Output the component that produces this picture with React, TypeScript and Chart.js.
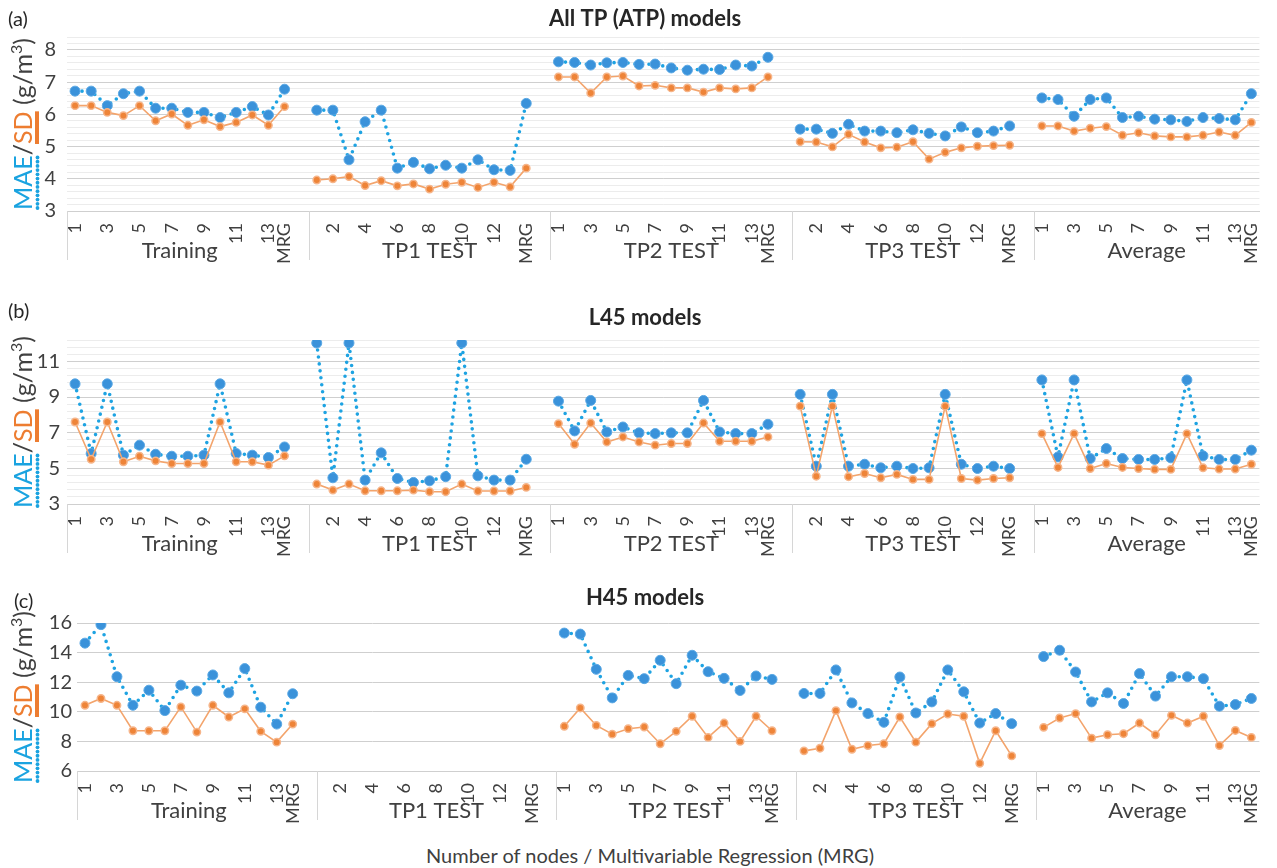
import React, { useEffect, useRef } from 'react';
import { Chart, registerables } from 'chart.js';

Chart.register(...registerables);
Chart.defaults.font.family = 'Lato';

// ---------- data ----------
const NODE_LABELS = ['1', '2', '3', '4', '5', '6', '7', '8', '9', '10', '11', '12', '13', 'MRG'];
const GROUPS = ['Training', 'TP1 TEST', 'TP2 TEST', 'TP3 TEST', 'Average'];

// (a) All TP (ATP) models  – rows: Training, TP1, TP2, TP3, Average
const ATP_MAE: number[][] = [
  [6.72, 6.72, 6.27, 6.64, 6.72, 6.19, 6.19, 6.06, 6.06, 5.9, 6.06, 6.24, 5.98, 6.78],
  [6.13, 6.13, 4.59, 5.77, 6.13, 4.33, 4.51, 4.31, 4.42, 4.33, 4.59, 4.28, 4.26, 6.34],
  [7.63, 7.61, 7.53, 7.6, 7.61, 7.55, 7.56, 7.44, 7.37, 7.4, 7.39, 7.53, 7.5, 7.77],
  [5.54, 5.54, 5.41, 5.69, 5.48, 5.48, 5.43, 5.52, 5.41, 5.33, 5.61, 5.43, 5.48, 5.64],
  [6.51, 6.46, 5.94, 6.46, 6.51, 5.9, 5.94, 5.85, 5.83, 5.78, 5.9, 5.87, 5.83, 6.64],
];
const ATP_SD: number[][] = [
  [6.27, 6.27, 6.06, 5.96, 6.27, 5.8, 6.01, 5.66, 5.83, 5.62, 5.75, 5.98, 5.66, 6.24],
  [3.96, 4.0, 4.07, 3.79, 3.94, 3.78, 3.84, 3.68, 3.83, 3.89, 3.73, 3.89, 3.75, 4.33],
  [7.16, 7.16, 6.66, 7.16, 7.19, 6.88, 6.9, 6.82, 6.82, 6.69, 6.82, 6.79, 6.82, 7.16],
  [5.15, 5.14, 4.99, 5.38, 5.14, 4.96, 4.98, 5.15, 4.61, 4.82, 4.96, 5.01, 5.03, 5.04],
  [5.64, 5.64, 5.48, 5.57, 5.62, 5.35, 5.43, 5.33, 5.3, 5.3, 5.35, 5.45, 5.35, 5.75],
];

// (b) L45 models
const L45_MAE: number[][] = [
  [9.74, 5.83, 9.74, 5.74, 6.3, 5.79, 5.68, 5.68, 5.74, 9.74, 5.83, 5.74, 5.61, 6.2],
  [12.03, 4.47, 12.03, 4.34, 5.87, 4.43, 4.21, 4.3, 4.53, 12.03, 4.58, 4.34, 4.34, 5.51],
  [8.77, 7.1, 8.81, 7.04, 7.32, 6.99, 6.95, 6.99, 6.99, 8.81, 7.04, 6.95, 6.95, 7.47],
  [9.15, 5.12, 9.15, 5.12, 5.23, 5.03, 5.12, 4.99, 5.03, 9.15, 5.23, 4.99, 5.12, 4.99],
  [9.96, 5.64, 9.96, 5.55, 6.11, 5.55, 5.5, 5.5, 5.59, 9.96, 5.7, 5.5, 5.5, 6.02],
];
const L45_SD: number[][] = [
  [7.6, 5.51, 7.6, 5.37, 5.68, 5.42, 5.27, 5.27, 5.27, 7.6, 5.37, 5.37, 5.18, 5.7],
  [4.12, 3.78, 4.12, 3.74, 3.74, 3.74, 3.78, 3.69, 3.69, 4.12, 3.73, 3.73, 3.73, 3.93],
  [7.51, 6.35, 7.54, 6.48, 6.76, 6.48, 6.3, 6.39, 6.39, 7.54, 6.52, 6.52, 6.52, 6.76],
  [8.49, 4.56, 8.49, 4.53, 4.71, 4.47, 4.66, 4.38, 4.38, 8.49, 4.43, 4.34, 4.43, 4.47],
  [6.95, 5.05, 6.95, 4.99, 5.27, 5.05, 4.99, 4.94, 4.94, 6.95, 5.03, 4.96, 4.96, 5.23],
];

// (c) H45 models (no TP1 test data)
const H45_MAE: number[][] = [
  [14.64, 15.89, 12.37, 10.44, 11.46, 10.08, 11.8, 11.4, 12.49, 11.28, 12.92, 10.31, 9.17, 11.22],
  [],
  [15.32, 15.25, 12.87, 10.94, 12.46, 12.24, 13.48, 11.9, 13.82, 12.71, 12.26, 11.44, 12.42, 12.19],
  [11.24, 11.24, 12.83, 10.6, 9.88, 9.29, 12.35, 9.92, 10.67, 12.83, 11.35, 9.24, 9.88, 9.2],
  [13.73, 14.16, 12.69, 10.67, 11.28, 10.56, 12.58, 11.06, 12.37, 12.37, 12.24, 10.38, 10.49, 10.9],
];
const H45_SD: number[][] = [
  [10.44, 10.9, 10.44, 8.72, 8.72, 8.72, 10.33, 8.63, 10.44, 9.65, 10.2, 8.68, 7.95, 9.17],
  [],
  [9.02, 10.26, 9.08, 8.49, 8.86, 8.97, 7.84, 8.68, 9.7, 8.27, 9.24, 8.0, 9.7, 8.72],
  [7.36, 7.54, 10.08, 7.47, 7.72, 7.84, 9.65, 7.95, 9.2, 9.85, 9.7, 6.52, 8.72, 7.02],
  [8.95, 9.58, 9.88, 8.22, 8.45, 8.52, 9.24, 8.45, 9.76, 9.24, 9.7, 7.72, 8.74, 8.27],
];

const PANEL_TITLES = ['All TP (ATP) models', 'L45 models', 'H45 models'];
const PANEL_TAGS = ['(a)', '(b)', '(c)'];
const X_TITLE = 'Number of nodes / Multivariable Regression (MRG)';

// ---------- styling ----------
const TEXT = '#404040';
const MAJOR_GRID = '#cfcfcf';
const MINOR_GRID = '#ececec';
const MAE_LINE = '#1ea3e2';
const MAE_POINT = '#3a92da';
const MAE_RIM = '#5aa8e4';
const SD_LINE = '#f3a46c';
const SD_POINT = '#ee8438';
const SD_RIM = '#f6b58a';
const MAE_TEXT = '#1aa3e0';
const SD_TEXT = '#ed7d31';

// categories: 14 per group, a blank slot between groups
const CATEGORIES: string[] = [];
GROUPS.forEach((_, g) => {
  NODE_LABELS.forEach((l) => CATEGORIES.push(l));
  if (g < GROUPS.length - 1) CATEGORIES.push('');
});

function series(rows: number[][]): (number | null)[] {
  const out: (number | null)[] = [];
  rows.forEach((row, g) => {
    NODE_LABELS.forEach((_, i) => out.push(row[i] ?? null));
    if (g < rows.length - 1) out.push(null);
  });
  return out;
}

function tickLabel(i: number) {
  const l = CATEGORIES[i];
  if (l === 'MRG') return l;
  return i % 2 === 0 ? l : '';
}

const decorPlugin = {
  id: 'panelDecor',
  afterDraw(chart: any, _args: any, opts: any) {
    const { ctx, chartArea } = chart;
    const x = chart.scales.x;
    const slot = x.getPixelForValue(1) - x.getPixelForValue(0);
    const bottom = chartArea.bottom;
    ctx.save();
    // title
    ctx.font = 'bold 22px Lato';
    ctx.fillStyle = '#262626';
    ctx.textAlign = 'center';
    ctx.textBaseline = 'middle';
    ctx.fillText(opts.title, 645, opts.titleY);

    // group separators and labels
    const per = NODE_LABELS.length + 1;
    ctx.strokeStyle = '#d6d6d6';
    ctx.lineWidth = 1;
    ctx.font = '22px Lato';
    ctx.fillStyle = TEXT;
    GROUPS.forEach((name, g) => {
      const start = g * per;
      const end = g === 0 || g === GROUPS.length - 1 ? start + NODE_LABELS.length - 1 : start + NODE_LABELS.length;
      const left = x.getPixelForValue(start) - slot / 2;
      const right = x.getPixelForValue(end) + slot / 2;
      const lx = Math.round(left) + 0.5;
      ctx.beginPath();
      ctx.moveTo(lx, bottom);
      ctx.lineTo(lx, bottom + 49);
      ctx.stroke();
      ctx.fillText(name, (left + right) / 2, bottom + 40);
    });

    // y-axis title with coloured parts
    const size = 25;
    const main = `${size}px Lato`;
    const sup = `${Math.round(size * 0.62)}px Lato`;
    const segs = [
      { t: 'MAE', c: MAE_TEXT, f: main, dy: 0, u: 'dots' },
      { t: '/', c: TEXT, f: main, dy: 0, u: '' },
      { t: 'SD', c: SD_TEXT, f: main, dy: 0, u: 'bar' },
      { t: ' (g/m', c: TEXT, f: main, dy: 0, u: '' },
      { t: '3', c: TEXT, f: sup, dy: -size * 0.42, u: '' },
      { t: ')', c: TEXT, f: main, dy: 0, u: '' },
    ];
    const widths = segs.map((s) => {
      ctx.font = s.f;
      return ctx.measureText(s.t).width;
    });
    const total = widths.reduce((a, b) => a + b, 0);
    const stretch = opts.yTitleLen / total;
    ctx.translate(opts.yTitleX, (chartArea.top + chartArea.bottom) / 2);
    ctx.rotate(-Math.PI / 2);
    ctx.scale(stretch, 1);
    ctx.textAlign = 'left';
    ctx.textBaseline = 'alphabetic';
    let px = -total / 2;
    segs.forEach((s, i) => {
      ctx.font = s.f;
      ctx.fillStyle = s.c;
      ctx.fillText(s.t, px, s.dy);
      if (s.u === 'dots') {
        for (let d = px + 2; d < px + widths[i]; d += 4.2) {
          ctx.beginPath();
          ctx.ellipse(d, 5.5, 1.9 / stretch, 1.9, 0, 0, Math.PI * 2);
          ctx.fill();
        }
      } else if (s.u === 'bar') {
        ctx.fillRect(px, 3, widths[i], 4);
      }
      px += widths[i];
    });
    ctx.restore();
  },
};

type PanelCfg = {
  top: number;
  height: number;
  padTop: number;
  titleY: number;
  yMin: number;
  yMax: number;
  step: number;
  major: number;
  yWidth: number;
  tickPad: number;
  mae: number[][];
  sd: number[][];
  title: string;
};

const PANELS: PanelCfg[] = [
  { top: 0, height: 270, padTop: 37, titleY: 19, yMin: 3, yMax: 8.4, step: 0.2, major: 1, yWidth: 67, tickPad: 11, mae: ATP_MAE, sd: ATP_SD, title: PANEL_TITLES[0] },
  { top: 290, height: 273, padTop: 50, titleY: 28, yMin: 3, yMax: 12.2, step: 0.4, major: 2, yWidth: 67, tickPad: 7, mae: L45_MAE, sd: L45_SD, title: PANEL_TITLES[1] },
  { top: 575, height: 255, padTop: 48, titleY: 23, yMin: 6, yMax: 16, step: 2, major: 2, yWidth: 77, tickPad: 5, mae: H45_MAE, sd: H45_SD, title: PANEL_TITLES[2] },
];

function Panel({ p }: { p: PanelCfg }) {
  const ref = useRef<HTMLCanvasElement>(null);
  useEffect(() => {
    const isMajor = (v: number) => {
      const k = (v - p.yMin) / p.major;
      return Math.abs(k - Math.round(k)) < 1e-6;
    };
    const chart = new Chart(ref.current as HTMLCanvasElement, {
      type: 'line',
      data: {
        labels: CATEGORIES,
        datasets: [
          {
            label: 'SD',
            data: series(p.sd),
            borderColor: SD_LINE,
            borderWidth: 1.6,
            pointRadius: 3.7,
            pointBackgroundColor: SD_POINT,
            pointBorderColor: SD_RIM,
            pointBorderWidth: 1.5,
            tension: 0,
            spanGaps: false,
            fill: false,
          },
          {
            label: 'MAE',
            data: series(p.mae),
            borderColor: MAE_LINE,
            borderWidth: 3.6,
            borderDash: [0, 7],
            borderCapStyle: 'round',
            pointRadius: 5,
            pointBackgroundColor: MAE_POINT,
            pointBorderColor: MAE_RIM,
            pointBorderWidth: 1,
            tension: 0,
            spanGaps: false,
            fill: false,
          },
        ],
      } as any,
      options: {
        responsive: false,
        maintainAspectRatio: false,
        animation: false,
        devicePixelRatio: 1,
        layout: { padding: { top: p.padTop, right: 2, left: 0, bottom: 0 } },
        plugins: {
          legend: { display: false },
          tooltip: { enabled: false },
          title: { display: false },
          panelDecor: { title: p.title, titleY: p.titleY, yTitleX: 32, yTitleLen: 172 },
        } as any,
        scales: {
          x: {
            type: 'category',
            offset: true,
            grid: { display: false },
            border: { display: true, color: MAJOR_GRID, width: 1 },
            ticks: {
              autoSkip: false,
              maxRotation: 90,
              minRotation: 90,
              padding: 4,
              color: TEXT,
              font: { size: 18, family: 'Lato' },
              callback: (_v: any, i: number) => tickLabel(i),
            },
            afterFit: (s: any) => {
              s.height = 59;
            },
          },
          y: {
            min: p.yMin,
            max: p.yMax,
            grid: {
              drawTicks: false,
              lineWidth: 1,
              color: (c: any) => (isMajor(c.tick.value) ? MAJOR_GRID : MINOR_GRID),
            },
            border: { display: false },
            ticks: {
              stepSize: p.step,
              maxTicksLimit: 200,
              autoSkip: false,
              padding: p.tickPad,
              color: TEXT,
              font: { size: 20, family: 'Lato' },
              callback: (v: any) => (isMajor(Number(v)) ? String(Math.round(Number(v))) : ''),
            },
            afterFit: (s: any) => {
              s.width = p.yWidth;
            },
          },
        } as any,
      },
      plugins: [decorPlugin as any],
    });
    return () => chart.destroy();
  }, []);
  return (
    <canvas
      ref={ref}
      width={1277}
      height={p.height}
      style={{ position: 'absolute', left: 0, top: p.top, width: 1277, height: p.height }}
    />
  );
}

const TAG_POS = [
  { left: 8, top: 6 },
  { left: 8, top: 298 },
  { left: 14, top: 588 },
];

export default function App() {
  return (
    <div
      style={{
        position: 'absolute',
        left: 0,
        top: 0,
        width: 1277,
        height: 868,
        background: '#fff',
        overflow: 'hidden',
        fontFamily: 'Lato',
      }}
    >
      {PANELS.map((p, i) => (
        <Panel key={i} p={p} />
      ))}
      {PANEL_TAGS.map((t, i) => (
        <div
          key={t}
          style={{ position: 'absolute', left: TAG_POS[i].left, top: TAG_POS[i].top, fontSize: 20, lineHeight: '24px', color: '#262626' }}
        >
          {t}
        </div>
      ))}
      <div
        style={{
          position: 'absolute',
          left: 0,
          width: 1300,
          top: 842,
          textAlign: 'center',
          fontSize: 20,
          lineHeight: '26px',
          color: TEXT,
        }}
      >
        {X_TITLE}
      </div>
    </div>
  );
}
